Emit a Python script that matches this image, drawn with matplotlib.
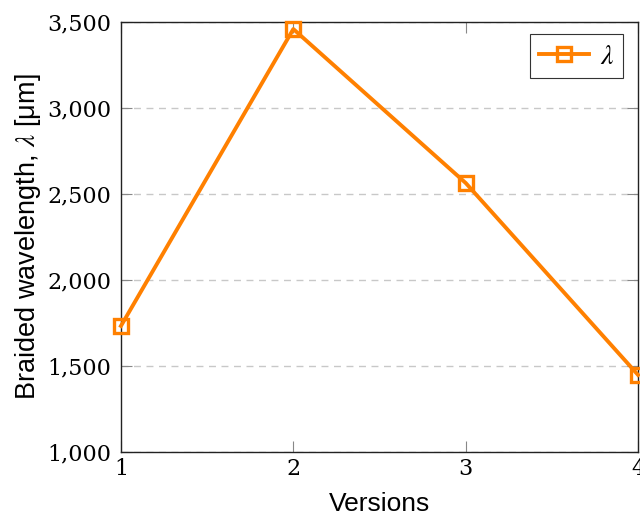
import matplotlib
matplotlib.use("Agg")
import matplotlib.pyplot as plt
from matplotlib.ticker import FuncFormatter, MultipleLocator

versions = [1, 2, 3, 4]
wavelength = [1733, 3459, 2564, 1448]

orange = "#ff8000"
plt.rcParams["mathtext.fontset"] = "stix"

fig = plt.figure(figsize=(6.4, 5.24), dpi=100)
ax = fig.add_axes([0.189, 0.1374, 0.808, 0.8206])

ax.plot(versions, wavelength, color=orange, lw=2.8, marker="s", ms=10,
        mfc="none", mec=orange, mew=2.4, label=r"$\lambda$", clip_on=False, zorder=3)

ax.set_xlim(1, 4)
ax.set_ylim(1000, 3500)
ax.xaxis.set_major_locator(MultipleLocator(1))
ax.yaxis.set_major_locator(MultipleLocator(500))
ax.yaxis.set_major_formatter(FuncFormatter(lambda v, p: f"{int(v):,}"))

ax.grid(axis="y", color="#c8c8c8", linestyle=(0, (5, 4)), lw=1.0)
ax.set_axisbelow(True)

ax.tick_params(direction="in", length=8, width=0.8, color="#888888",
               top=True, right=True, labelsize=16)
ax.tick_params(axis="y", pad=7)
ax.tick_params(axis="x", pad=4)
for lbl in ax.get_xticklabels() + ax.get_yticklabels():
    lbl.set_family("DejaVu Serif")

for s in ax.spines.values():
    s.set_linewidth(1.0)
    s.set_color("#222222")

ax.set_xlabel("Versions", family="Liberation Sans", fontsize=19, labelpad=9)
ax.set_ylabel(r"Braided wavelength, $\lambda$ [μm]", family="Liberation Sans",
              fontsize=19.5, labelpad=3)

leg = ax.legend(loc="upper right", fancybox=False, edgecolor="#333333",
                framealpha=1, fontsize=20, handlelength=1.8,
                bbox_to_anchor=(0.986, 0.992),
                borderaxespad=0.3, borderpad=0.3, handletextpad=0.4)
leg.get_frame().set_linewidth(0.8)

fig.savefig("out.png", dpi=100)
